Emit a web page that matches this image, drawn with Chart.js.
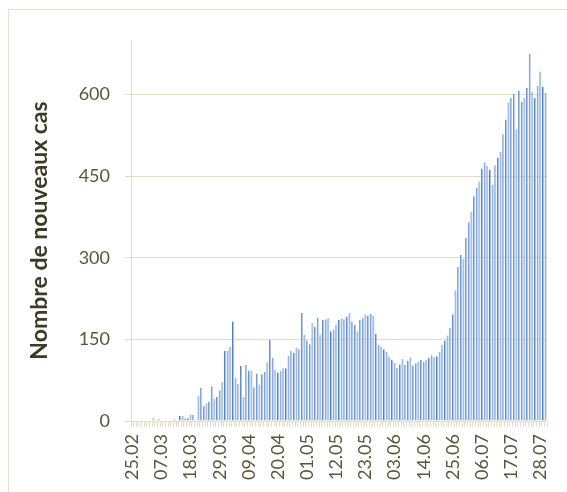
<!DOCTYPE html>
<html>
<head>
<meta charset="utf-8">
<script src="https://cdn.jsdelivr.net/npm/chart.js@4/dist/chart.umd.min.js"></script>
<style>
  html, body { margin: 0; padding: 0; background: #ffffff; }
  #wrap { position: relative; width: 567px; height: 492px; overflow: hidden; }
  #frame { position: absolute; left: 8px; top: 9px; width: 600px; height: 600px; border: 1px solid #e6e1cc; box-sizing: border-box; }
  canvas { position: absolute; left: 0; top: 0; }
</style>
</head>
<body>
<div id="wrap">
  <div id="frame"></div>
  <canvas id="c" width="567" height="492"></canvas>
</div>
<script>
// First day of the series and number of days (25.02 -> 30.07)
const startDay = { day: 25, month: 2, year: 2020 };
const dayCount = 157;

// Tick labels shown on the category axis (every 11th day)
const shownLabels = ["25.02","07.03","18.03","29.03","09.04","20.04","01.05","12.05","23.05","03.06","14.06","25.06","06.07","17.07","28.07"];

// Daily new cases
const newCases = [
  1, 0, 0, 0, 0, 0, 1, 1, 5, 0,
  3, 0, 1, 1, 0, 0, 3, 1, 9, 9,
  5, 5, 12, 11, 2, 47, 61, 27, 32, 36,
  64, 41, 44, 56, 72, 129, 129, 137, 183, 79,
  68, 101, 44, 103, 93, 93, 62, 87, 67, 86,
  90, 108, 149, 116, 94, 89, 92, 97, 97, 120,
  129, 125, 135, 132, 199, 158, 148, 141, 180, 173,
  190, 159, 186, 187, 189, 165, 168, 177, 186, 189,
  187, 192, 199, 183, 177, 165, 186, 189, 196, 193,
  197, 194, 160, 140, 137, 132, 127, 118, 113, 107,
  98, 104, 114, 104, 111, 117, 102, 106, 109, 112,
  109, 112, 116, 121, 117, 119, 127, 140, 148, 157,
  171, 196, 240, 283, 305, 298, 336, 365, 385, 413,
  429, 440, 464, 475, 469, 461, 434, 470, 483, 494,
  527, 554, 585, 594, 601, 536, 607, 586, 594, 612,
  675, 605, 594, 616, 642, 614, 603
];

// Y axis ticks
const yTicks = [0, 150, 300, 450, 600];
const yMax = 700;

function pad2(n) { return (n < 10 ? "0" : "") + n; }
const categories = [];
{
  const d = new Date(startDay.year, startDay.month - 1, startDay.day);
  for (let i = 0; i < dayCount; i++) {
    categories.push(pad2(d.getDate()) + "." + pad2(d.getMonth() + 1));
    d.setDate(d.getDate() + 1);
  }
}

const tickColor = "#5b5539";
const lineColor = "#e3ddc6";

new Chart(document.getElementById("c"), {
  type: "bar",
  data: {
    labels: categories,
    datasets: [{
      label: "Nombre de nouveaux cas",
      data: newCases,
      backgroundColor: "#a9c2e4",
      borderColor: "#4d7fc2",
      borderWidth: { left: 1, right: 0, top: 0, bottom: 0 },
      borderSkipped: false,
      barPercentage: 0.78,
      categoryPercentage: 1.0
    }]
  },
  options: {
    responsive: false,
    animation: false,
    devicePixelRatio: 1,
    layout: { padding: { left: 26, right: 20, top: 40, bottom: 5 } },
    plugins: { legend: { display: false }, tooltip: { enabled: false } },
    scales: {
      x: {
        afterFit: function(axis) {
          axis.height = 66;
          axis.paddingLeft = 0;
          axis.paddingRight = 0;
        },
        grid: { drawOnChartArea: false, color: lineColor, tickLength: 6, offset: true },
        border: { color: lineColor },
        ticks: {
          autoSkip: false,
          maxRotation: 90,
          minRotation: 90,
          padding: 7,
          color: tickColor,
          font: { family: "Lato", size: 18 },
          callback: function(v, i) {
            const lab = categories[i];
            return shownLabels.includes(lab) ? lab : "";
          }
        }
      },
      y: {
        min: 0,
        max: yMax,
        afterBuildTicks: function(axis) {
          axis.ticks = yTicks.map(v => ({ value: v }));
        },
        afterFit: function(axis) {
          axis.width = 105;
          axis.paddingTop = 0;
          axis.paddingBottom = 0;
        },
        grid: { color: lineColor, tickLength: 6, drawTicks: true },
        border: { color: lineColor },
        ticks: {
          color: tickColor,
          padding: 15,
          font: { family: "Lato", size: 18 }
        },
        title: {
          display: true,
          text: "Nombre de nouveaux cas",
          color: "#3e3a28",
          font: { family: "Lato", size: 23, weight: "bold" },
          padding: { top: 0, bottom: 12 }
        }
      }
    }
  }
});
</script>
</body>
</html>
